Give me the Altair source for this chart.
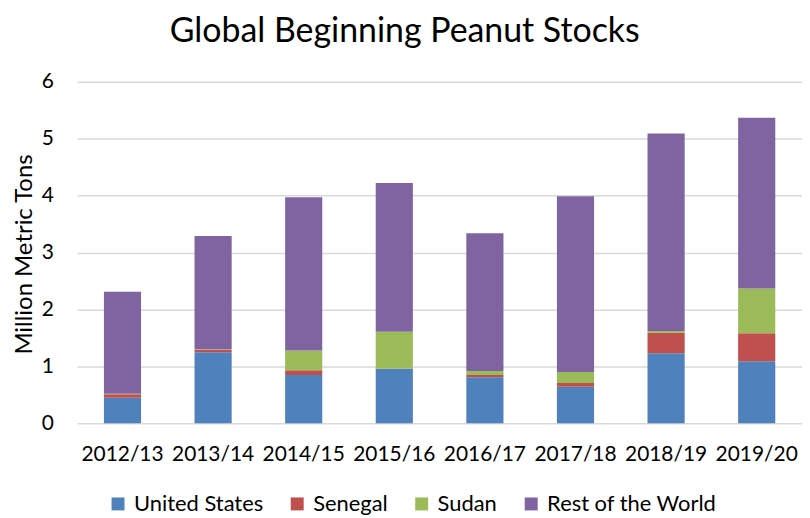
import altair as alt
import pandas as pd

years = ["2012/13", "2013/14", "2014/15", "2015/16", "2016/17", "2017/18", "2018/19", "2019/20"]
series = ["United States", "Senegal", "Sudan", "Rest of the World"]
united_states = [0.45, 1.25, 0.85, 0.96, 0.81, 0.64, 1.23, 1.09]
senegal = [0.06, 0.04, 0.08, 0.00, 0.04, 0.07, 0.36, 0.49]
sudan = [0.01, 0.01, 0.35, 0.65, 0.07, 0.19, 0.03, 0.79]
rest_of_world = [1.79, 1.99, 2.69, 2.61, 2.42, 3.09, 3.47, 3.00]
colors = ["#4F81BD", "#C0504D", "#9BBB59", "#8064A2"]

rows = []
for s_i, (name, vals) in enumerate(zip(series, [united_states, senegal, sudan, rest_of_world])):
    for y, v in zip(years, vals):
        rows.append({"year": y, "series": name, "value": v, "order": s_i})
df = pd.DataFrame(rows)

FONT = "Lato"

chart = alt.Chart(df).mark_bar().encode(
    x=alt.X("year:N", sort=years, title=None,
            scale=alt.Scale(paddingInner=0.59, paddingOuter=0.295),
            axis=alt.Axis(labelAngle=0, ticks=False, domain=False, grid=False,
                          labelPadding=20, labelFontSize=21, labelFont=FONT,
                          labelColor="#000000")),
    y=alt.Y("value:Q", stack="zero", title="Million Metric Tons",
            scale=alt.Scale(domain=[0, 6], nice=False),
            axis=alt.Axis(values=[0, 1, 2, 3, 4, 5, 6], ticks=False, domain=False,
                          gridColor="#d9d9d9", gridWidth=1.5,
                          labelPadding=24, labelFontSize=21, labelFont=FONT,
                          labelColor="#000000",
                          titleFontSize=24, titleFont=FONT, titleFontWeight="normal",
                          titleColor="#000000", titleAngle=-90, titleX=-53, titleY=173,
                          titleAlign="center", titleBaseline="middle", titleLimit=400)),
    color=alt.Color("series:N", sort=series,
                    scale=alt.Scale(domain=series, range=colors),
                    legend=alt.Legend(title=None, orient="none", direction="horizontal",
                                      legendX=30, legendY=413, symbolType="square",
                                      symbolSize=169, symbolStrokeWidth=0,
                                      labelFontSize=22, labelFont=FONT, labelColor="#000000",
                                      labelOffset=5, columnPadding=23, labelLimit=400)),
    order=alt.Order("order:Q", sort="ascending"),
).properties(
    width=728,
    height=343,
    autosize=alt.AutoSizeParams(type="none"),
    padding={"left": 69.5, "top": 73, "right": 0, "bottom": 94},
    title=alt.TitleParams("Global Beginning Peanut Stocks", fontSize=34, font=FONT,
                          fontWeight="normal", color="#000000", anchor="middle",
                          offset=22, dx=-35),
).configure_view(stroke=None)

chart.save("out.html", embed_options={"renderer": "svg", "actions": False})
